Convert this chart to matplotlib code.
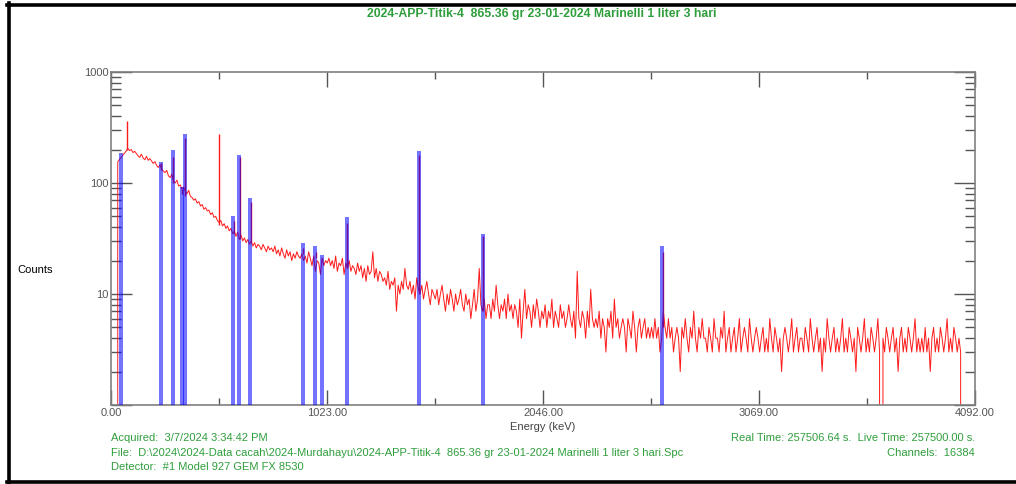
import numpy as np
import matplotlib.pyplot as plt
from matplotlib.lines import Line2D
from matplotlib.ticker import FixedLocator, NullFormatter

# spectrum continuum, one value every 8 keV starting at 0 keV (counts)
step_kev = 8
counts = [
    0, 0, 0, 0, 155, 163, 170, 178, 186, 194, 205, 196, 200, 188, 193, 184,
    176, 170, 182, 168, 162, 174, 160, 166, 158, 150, 156, 144, 138, 146, 134, 128,
    124, 130, 116, 112, 120, 104, 100, 106, 94, 96, 88, 92, 84, 80, 86, 76,
    74, 70, 72, 66, 68, 62, 64, 58, 60, 56, 57, 52, 54, 49, 50, 46,
    44, 46, 41, 43, 39, 41, 37, 39, 35, 37, 33, 36, 31, 34, 30, 32,
    29, 31, 28, 30, 27, 29, 26, 28, 27, 25, 28, 26, 24, 27, 25, 26,
    24, 27, 23, 25, 22, 26, 23, 21, 25, 22, 24, 20, 23, 21, 24, 22,
    21, 23, 20, 22, 19, 24, 21, 18, 22, 16, 20, 19, 15, 21, 18, 20,
    19, 21, 18, 20, 17, 22, 16, 19, 18, 21, 15, 19, 17, 20, 16, 18,
    17, 15, 19, 16, 18, 14, 17, 13, 18, 15, 16, 24, 14, 17, 13, 16,
    15, 13, 14, 12, 16, 11, 13, 12, 14, 7, 12, 10, 13, 11, 17, 12,
    11, 13, 10, 12, 9, 14, 11, 10, 12, 9, 11, 13, 10, 8, 11, 10,
    9, 11, 8, 10, 12, 9, 7, 10, 8, 11, 9, 7, 10, 8, 9, 11,
    8, 7, 10, 8, 9, 6, 8, 11, 7, 9, 17, 8, 7, 9, 6, 8,
    8, 6, 9, 7, 12, 8, 6, 8, 7, 9, 6, 10, 7, 8, 6, 8,
    7, 5, 9, 4, 7, 11, 6, 8, 7, 5, 8, 6, 9, 7, 5, 7,
    6, 8, 5, 7, 6, 9, 5, 7, 6, 5, 8, 6, 7, 5, 6, 8,
    6, 5, 7, 4, 16, 6, 5, 7, 6, 4, 7, 5, 11, 6, 5, 6,
    5, 7, 4, 6, 5, 3, 6, 5, 7, 4, 9, 5, 6, 4, 5, 6,
    5, 3, 6, 5, 4, 7, 5, 3, 5, 6, 4, 5, 6, 4, 5, 4,
    5, 4, 6, 4, 5, 3, 4, 7, 5, 4, 6, 4, 5, 3, 4, 5,
    4, 2, 5, 4, 6, 4, 3, 5, 4, 7, 4, 3, 5, 4, 6, 4,
    4, 3, 5, 4, 3, 6, 4, 4, 3, 5, 4, 7, 3, 4, 5, 3,
    4, 5, 3, 4, 6, 3, 4, 5, 4, 3, 6, 4, 3, 4, 5, 4,
    3, 4, 5, 3, 4, 3, 6, 4, 3, 5, 4, 3, 4, 2, 4, 5,
    4, 3, 4, 6, 3, 4, 5, 3, 4, 4, 3, 5, 4, 3, 6, 4,
    3, 4, 5, 3, 4, 2, 4, 3, 6, 4, 3, 4, 5, 3, 4, 3,
    4, 6, 3, 4, 3, 5, 4, 3, 4, 2, 5, 4, 3, 4, 6, 3,
    4, 3, 5, 4, 3, 4, 6, 3, 0, 4, 3, 5, 4, 3, 4, 5,
    3, 4, 2, 4, 5, 3, 4, 3, 5, 4, 3, 4, 6, 3, 4, 3,
    4, 3, 5, 3, 4, 2, 4, 5, 3, 4, 3, 5, 4, 3, 4, 6,
    3, 4, 3, 5, 4, 3, 4, 3, 0, 0, 0, 0, 0, 0, 0, 0,
]

# photopeaks in the red spectrum (keV, continuum under it, peak top)
peak_kev = [75, 239, 295, 338, 352, 511, 583, 609, 662, 911, 969, 1001, 1120, 1461, 1764, 2614]
peak_base = [200, 130, 100, 80, 76, 42, 35, 31, 29, 23, 21, 20, 17, 10, 7, 5]
peak_top = [365, 150, 170, 88, 255, 275, 45, 170, 68, 26, 24, 21, 44, 178, 33, 24]

# blue ROI markers
roi_kev = [46, 235, 295, 338, 351, 579, 607, 658, 908, 966, 998, 1119, 1460, 1763, 2611]
roi_height = [186, 155, 198, 92, 276, 50, 179, 74, 29, 27, 22.5, 49, 195, 35, 27]

x_ticks = [0, 1023, 2046, 3069, 4092]
x_minor = [511.5, 1534.5, 2557.5, 3580.5]

title = '2024-APP-Titik-4  865.36 gr 23-01-2024 Marinelli 1 liter 3 hari'
acquired = 'Acquired:  3/7/2024 3:34:42 PM'
file_txt = ('File:  D:\\2024\\2024-Data cacah\\2024-Murdahayu\\2024-APP-Titik-4  '
            '865.36 gr 23-01-2024 Marinelli 1 liter 3 hari.Spc')
detector = 'Detector:  #1 Model 927 GEM FX 8530'
times = 'Real Time: 257506.64 s.  Live Time: 257500.00 s.'
channels = 'Channels:  16384'

plt.rcParams['font.family'] = ['Liberation Sans', 'DejaVu Sans']
green = '#2f9e3c'
grey = '#808080'

fig = plt.figure(figsize=(10.16, 4.84), dpi=100)
ax = fig.add_axes([111 / 1016, 1 - 405 / 484, 864 / 1016, 333 / 484])

energy = np.arange(len(counts)) * step_kev
ax.plot(energy, counts, color='#ff1a1a', lw=0.7, zorder=2)
ax.vlines(peak_kev, peak_base, peak_top, color='#ff1a1a', lw=1.0, zorder=2)
ax.bar(roi_kev, roi_height, width=18, color='blue', alpha=0.55, linewidth=0, zorder=3)

ax.set_yscale('log')
ax.set_xlim(0, 4092)
ax.set_ylim(1, 1000)

ax.set_xticks(x_ticks)
ax.set_xticklabels(['%.2f' % v for v in x_ticks])
ax.xaxis.set_minor_locator(FixedLocator(x_minor))
ax.tick_params(axis='x', which='major', direction='in', top=True, length=11, width=1,
               color='#555555', labelsize=8, labelcolor='#555555', pad=2)
ax.tick_params(axis='x', which='minor', direction='in', top=True, length=5, width=1, color='#555555')

ax.yaxis.set_major_locator(FixedLocator([1, 10, 100, 1000]))
ax.set_yticklabels(['', '10', '100', '1000'])
ax.yaxis.set_minor_locator(FixedLocator([m * d for d in (1, 10, 100) for m in range(2, 10)]))
ax.yaxis.set_minor_formatter(NullFormatter())
ax.tick_params(axis='y', which='major', direction='in', right=True, length=15, width=1,
               color='#555555', labelsize=8, labelcolor='#555555', pad=2)
ax.tick_params(axis='y', which='minor', direction='in', right=True, length=7, width=1, color='#555555')

for s in ax.spines.values():
    s.set_color(grey)
    s.set_linewidth(1.2)

ax.set_xlabel('Energy (keV)', fontsize=8, color='#444444', labelpad=3)
fig.text(17 / 1016, 1 - 270 / 484, 'Counts', fontsize=8, va='center', ha='left')

fig.text(542 / 1016, 1 - 14 / 484, title, fontsize=8.8, fontweight='bold', color=green,
         ha='center', va='center')
fig.text(111 / 1016, 1 - 438 / 484, acquired, fontsize=8, color=green, va='center')
fig.text(111 / 1016, 1 - 453 / 484, file_txt, fontsize=8, color=green, va='center')
fig.text(111 / 1016, 1 - 467 / 484, detector, fontsize=8, color=green, va='center')
fig.text(975 / 1016, 1 - 438 / 484, times, fontsize=8, color=green, va='center', ha='right')
fig.text(975 / 1016, 1 - 453 / 484, channels, fontsize=8, color=green, va='center', ha='right')

# black frame of the screenshot
for xs, ys in [([7 / 1016, 1], [1 - 4.5 / 484] * 2),
               ([8.5 / 1016] * 2, [1 - 3 / 484, 1 - 483 / 484]),
               ([7 / 1016, 1], [1 - 481.5 / 484] * 2)]:
    fig.add_artist(Line2D(xs, ys, color='black', lw=2.6, transform=fig.transFigure))

fig.savefig('out.png', dpi=100)
